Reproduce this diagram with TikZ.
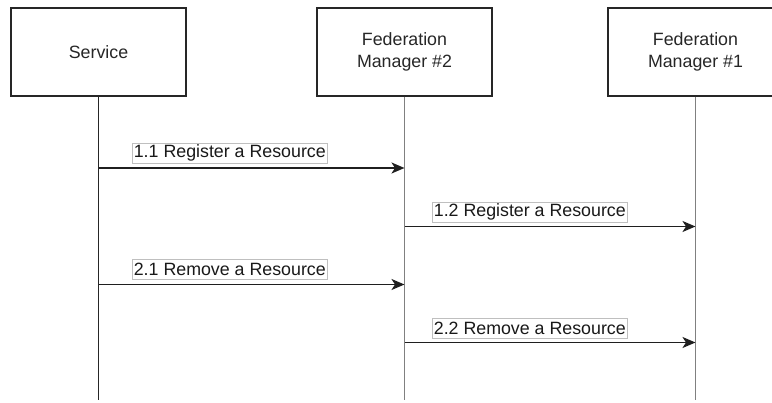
\documentclass[tikz,border=0pt]{standalone}
\usepackage{fontspec}
\setmainfont{Liberation Sans}
\usetikzlibrary{arrows.meta}
\begin{document}
\begin{tikzpicture}[x=1pt,y=-1pt,
  actor/.style={draw=black!85, line width=1.5pt, minimum width=175pt, minimum height=88pt,
    font=\fontsize{17.8}{21.5}\selectfont, align=center, inner sep=0pt, text=black!85},
  lifeline/.style={line width=1.8pt},
  msg/.style={draw=black!88, line width=1.6pt, -{Stealth[length=13pt,width=11pt,inset=3.5pt]}},
  msglabel/.style={draw=black!25, fill=white, line width=0.7pt, anchor=west,
    font=\fontsize{17.8}{21}\selectfont, inner sep=1.5pt, minimum height=20pt, text=black!90}
]
\useasboundingbox (0,0) rectangle (772,403);
\clip (0,0) rectangle (772,403);

% participants
\node[actor] (svc) at (98.5,52) {Service};
\node[actor] (fm2) at (404.5,52) {Federation\\Manager \#2};
\node[actor] (fm1) at (695.5,52) {Federation\\Manager \#1};

% lifeline ends
\coordinate (svcE) at (98.5,400);
\coordinate (fm2E) at (404.5,400);
\coordinate (fm1E) at (695.5,400);

\draw[lifeline, black!85] (svc.south) -- (svcE);
\draw[lifeline, black!50] (fm2.south) -- (fm2E);
\draw[lifeline, black!50] (fm1.south) -- (fm1E);

% message anchor points on the lifelines
\coordinate (a1) at (98.5,168);   \coordinate (b1) at (404.5,168);
\coordinate (a2) at (404.5,226.5); \coordinate (b2) at (695.5,226.5);
\coordinate (a3) at (98.5,284.5); \coordinate (b3) at (404.5,284.5);
\coordinate (a4) at (404.5,342.5); \coordinate (b4) at (695.5,342.5);

\draw[msg] (a1) -- (b1);
\draw[msg] (a2) -- (b2);
\draw[msg] (a3) -- (b3);
\draw[msg] (a4) -- (b4);

% message labels
\node[msglabel] (l1) at (132,153) {1.1 Register a Resource};
\node[msglabel] (l2) at (432,212) {1.2 Register a Resource};
\node[msglabel] (l3) at (132,269) {2.1 Remove a Resource};
\node[msglabel] (l4) at (432,328) {2.2 Remove a Resource};
\end{tikzpicture}
\end{document}
